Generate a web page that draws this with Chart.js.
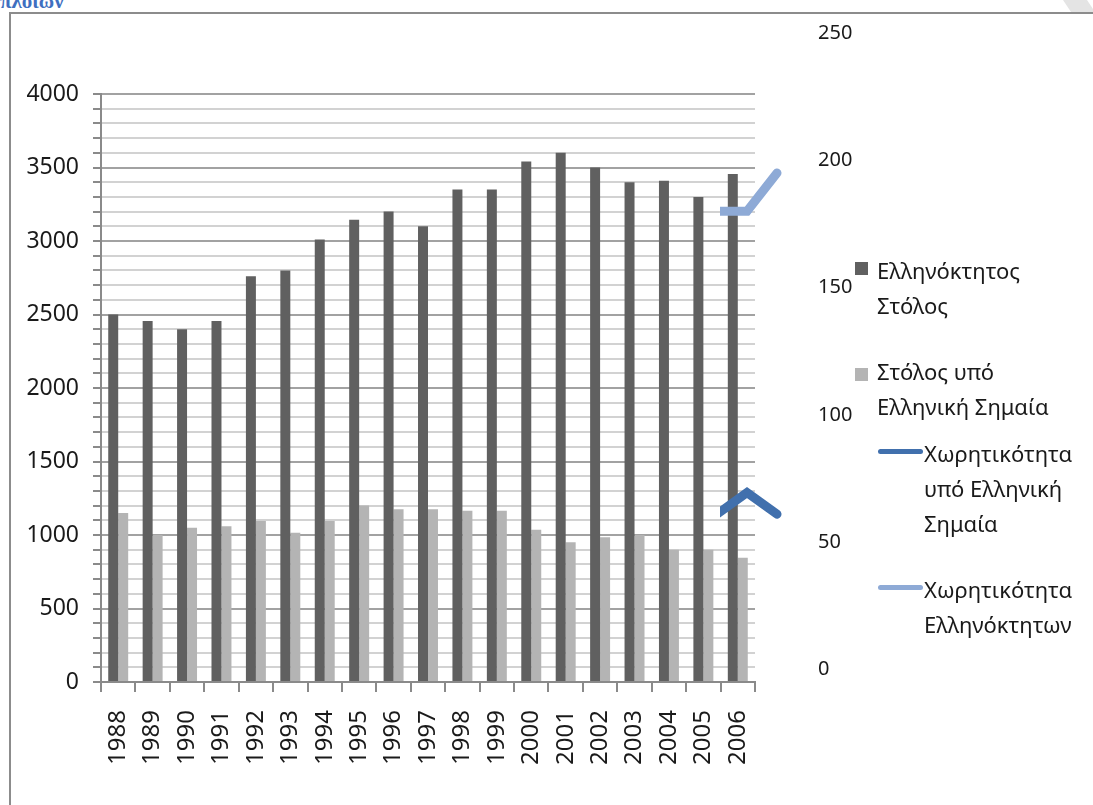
<!DOCTYPE html>
<html>
<head>
<meta charset="utf-8">
<script src="https://cdn.jsdelivr.net/npm/chart.js@4/dist/chart.umd.min.js"></script>
<style>
  html, body { margin: 0; padding: 0; background: #fff; }
  #stage { position: relative; width: 1093px; height: 805px; overflow: hidden; background: #fff; }
  #stage canvas { position: absolute; left: 0; top: 0; }
  #frame { position: absolute; left: 9px; top: 12px; width: 1100px; height: 820px;
           border-top: 2px solid #8c8c8c; border-left: 2px solid #8c8c8c; }
  #caption { position: absolute; left: 0; top: -9px; font: bold 21px "Liberation Serif", serif;
             color: #3f6fc0; white-space: nowrap; line-height: 1; }
  #fold { position: absolute; left: 0; top: 0; }
  .lg { position: absolute; font: 22px "Noto Sans", sans-serif; color: #1a1a1a; line-height: 35px; white-space: nowrap; }
  .sw { position: absolute; }
</style>
</head>
<body>
<div id="stage">
  <svg id="fold" width="1093" height="14"><polygon points="1063,0 1087,0 1093,9 1093,12 1071,12" fill="#e4e4e4"/></svg>
  <div id="caption">πλοίων</div>
  <div id="frame"></div>
  <canvas id="bars" width="1093" height="805"></canvas>
  <canvas id="lines" width="1093" height="805"></canvas>
</div>
<script>
// Years on the category axis
const years = ['1988','1989','1990','1991','1992','1993','1994','1995','1996','1997',
               '1998','1999','2000','2001','2002','2003','2004','2005','2006'];

// Number of ships
const greekOwnedFleet = [2500, 2455, 2400, 2455, 2760, 2800, 3010, 3145, 3200, 3100,
                         3350, 3350, 3540, 3600, 3500, 3400, 3410, 3300, 3455];
const greekFlagFleet  = [1150, 1000, 1050, 1060, 1095, 1015, 1095, 1200, 1175, 1175,
                         1165, 1165, 1035, 950, 985, 1000, 900, 900, 845];

// Tonnage series, secondary axis
const tonnageYears = ['2004', '2005', '2006'];
const greekFlagTonnage  = [61, 69.5, 61];
const greekOwnedTonnage = [180, 180, 195];

// Series names (legend)
const seriesNames = [
  ['Ελληνόκτητος', 'Στόλος'],
  ['Στόλος υπό', 'Ελληνική Σημαία'],
  ['Χωρητικότητα', 'υπό Ελληνική', 'Σημαία'],
  ['Χωρητικότητα', 'Ελληνόκτητων']
];

const leftTicks = { min: 0, max: 4000, major: 500, minor: 100 };
const rightTicks = { min: 0, max: 250, step: 50 };

const FONT = '"Noto Sans", "DejaVu Sans", sans-serif';
const AXIS = '#8a8a8a';
const TEXT = '#1a1a1a';
const colors = ['#606060', '#b4b4b4', '#4170ad', '#8eaad6'];

// Bar chart: ship counts on the primary axis
new Chart(document.getElementById('bars'), {
  type: 'bar',
  data: {
    labels: years,
    datasets: [
      { label: seriesNames[0].join(' '), data: greekOwnedFleet, backgroundColor: colors[0],
        borderWidth: 0, categoryPercentage: 0.58, barPercentage: 1.0 },
      { label: seriesNames[1].join(' '), data: greekFlagFleet, backgroundColor: colors[1],
        borderWidth: 0, categoryPercentage: 0.58, barPercentage: 1.0 }
    ]
  },
  options: {
    responsive: false,
    animation: false,
    layout: { padding: { left: 0, top: 94, right: 338, bottom: 0 } },
    plugins: { legend: { display: false }, tooltip: { enabled: false } },
    scales: {
      x: {
        offset: true,
        grid: { offset: true, drawOnChartArea: false, drawTicks: true, tickLength: 10,
                color: AXIS, lineWidth: 2 },
        border: { display: true, color: AXIS, width: 2 },
        ticks: { minRotation: 90, maxRotation: 90, autoSkip: false, padding: 18,
                 font: { family: FONT, size: 24 }, color: TEXT },
        afterFit(s) { s.height = 123; }
      },
      y: {
        min: leftTicks.min, max: leftTicks.max,
        ticks: {
          stepSize: leftTicks.minor, autoSkip: false, padding: 14,
          font: { family: FONT, size: 23 }, color: TEXT,
          callback: v => (v % leftTicks.major === 0 ? String(v) : '')
        },
        grid: {
          color: c => (c.tick && c.tick.value % leftTicks.major === 0 ? '#a2a2a2' : '#d2d2d2'),
          lineWidth: 2, tickLength: 8, tickColor: AXIS
        },
        border: { display: true, color: AXIS, width: 2 },
        afterFit(s) { s.width = 101; }
      }
    }
  }
});

// Line chart: tonnage on the secondary axis
new Chart(document.getElementById('lines'), {
  type: 'line',
  data: {
    labels: tonnageYears,
    datasets: [
      { label: seriesNames[2].join(' '), data: greekFlagTonnage, borderColor: colors[2],
        borderWidth: 9, pointRadius: 0, borderJoinStyle: 'miter', borderCapStyle: 'round',
        tension: 0, clip: { left: -3, top: 20, right: 20, bottom: 20 } },
      { label: seriesNames[3].join(' '), data: greekOwnedTonnage, borderColor: colors[3],
        borderWidth: 9, pointRadius: 0, borderJoinStyle: 'miter', borderCapStyle: 'round',
        tension: 0, clip: { left: -3, top: 20, right: 20, bottom: 20 } }
    ]
  },
  options: {
    responsive: false,
    animation: false,
    layout: { padding: { left: 717, top: 33, right: 216, bottom: 135.5 } },
    plugins: { legend: { display: false }, tooltip: { enabled: false } },
    scales: {
      x: { display: false },
      y: {
        position: 'right',
        min: rightTicks.min, max: rightTicks.max,
        ticks: { stepSize: rightTicks.step, padding: 8, font: { family: FONT, size: 20 }, color: TEXT },
        grid: { display: true, drawOnChartArea: false, drawTicks: true, tickLength: 33,
                color: 'rgba(0,0,0,0)' },
        border: { display: false },
        afterFit(s) { s.width = 100; }
      }
    }
  }
});

// Legend
const stage = document.getElementById('stage');
const legendItems = [
  { kind: 'box',  textX: 877, textTop: 253, sw: { x: 855, y: 262, w: 13, h: 13 } },
  { kind: 'box',  textX: 877, textTop: 354, sw: { x: 855, y: 368, w: 13, h: 13 } },
  { kind: 'line', textX: 924, textTop: 436, sw: { x: 878, y: 449, w: 45, h: 5 } },
  { kind: 'line', textX: 924, textTop: 572, sw: { x: 878, y: 585, w: 45, h: 5 } }
];
legendItems.forEach((it, i) => {
  const sw = document.createElement('div');
  sw.className = 'sw';
  sw.style.left = it.sw.x + 'px';
  sw.style.top = it.sw.y + 'px';
  sw.style.width = it.sw.w + 'px';
  sw.style.height = it.sw.h + 'px';
  sw.style.background = colors[i];
  if (it.kind === 'line') sw.style.borderRadius = '3px';
  stage.appendChild(sw);
  const t = document.createElement('div');
  t.className = 'lg';
  t.style.left = it.textX + 'px';
  t.style.top = it.textTop + 'px';
  t.innerHTML = seriesNames[i].join('<br>');
  stage.appendChild(t);
});
</script>
</body>
</html>
